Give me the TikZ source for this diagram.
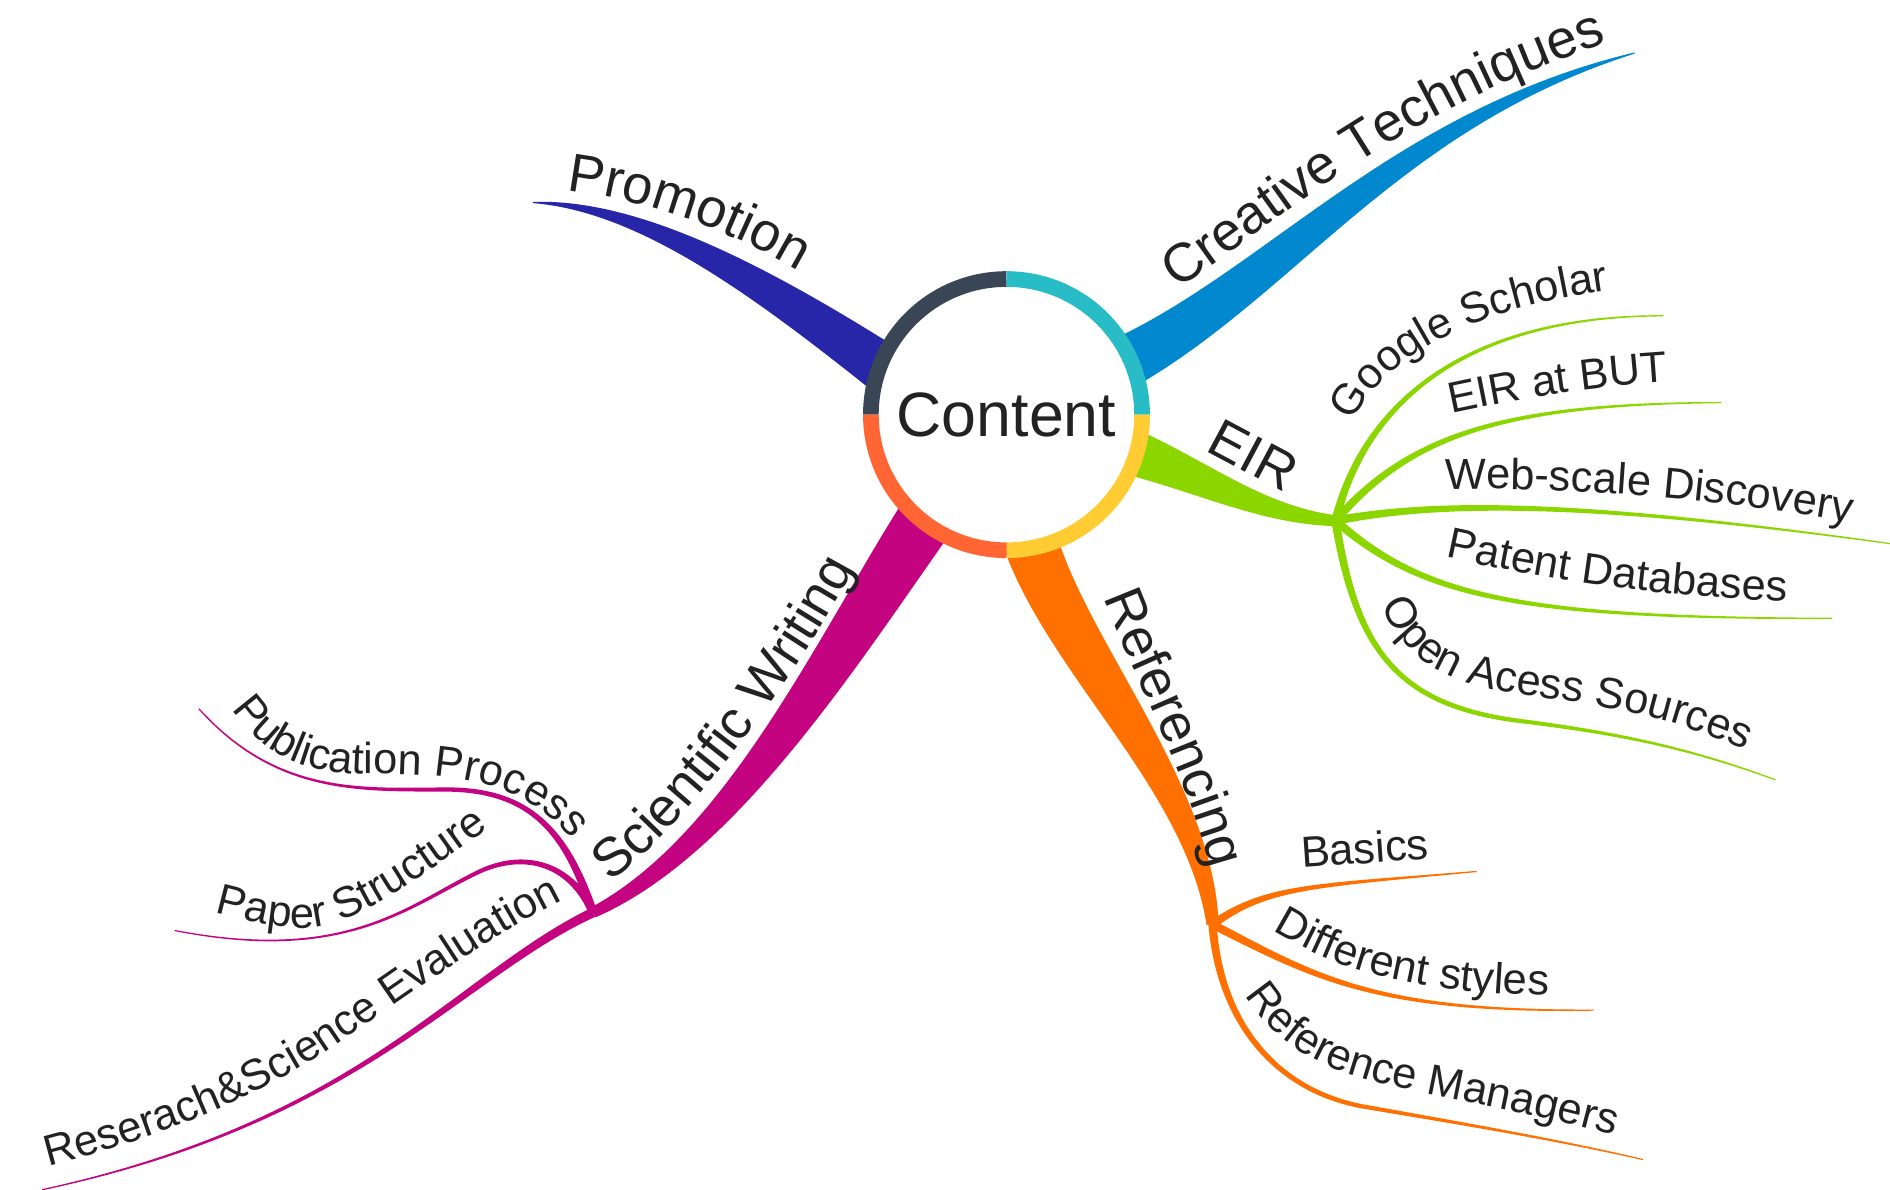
\documentclass[tikz,border=0pt]{standalone}
\usepackage{fontspec}
\setmainfont{Liberation Sans}
\usetikzlibrary{calc,decorations.text}
\definecolor{cPromo}{RGB}{40,38,168}
\definecolor{cCreat}{RGB}{2,136,206}
\definecolor{cEIR}{RGB}{140,214,0}
\definecolor{cRef}{RGB}{255,112,0}
\definecolor{cSci}{RGB}{196,3,128}
\definecolor{rDark}{RGB}{58,69,86}
\definecolor{rTeal}{RGB}{40,188,198}
\definecolor{rYel}{RGB}{255,204,51}
\definecolor{rOra}{RGB}{255,102,51}
\definecolor{txt}{RGB}{34,34,34}
% tapered branch: colour, P0, C1, C2, P3, widths at P0, C1, C2, P3
\newcommand\tbranch[9]{%
  \pgfmathsetlengthmacro\tbA{#6/2}%
  \pgfmathsetlengthmacro\tbB{#7/2}%
  \pgfmathsetlengthmacro\tbC{#8/2}%
  \pgfmathsetlengthmacro\tbD{#9/2}%
  \fill[#1] ($#2!\tbA!90:#3$) .. controls ($#3!\tbB!90:#4$) and ($#4!\tbC!90:#5$) .. ($#5!\tbD!-90:#4$)
    -- ($#5!\tbD!90:#4$) .. controls ($#4!\tbC!-90:#5$) and ($#3!\tbB!-90:#4$) .. ($#2!\tbA!-90:#3$) -- cycle;}
% text along a path: size, text, path
\newcommand\ctext[3]{\path[decorate,decoration={text along path,text color=txt,
  text={|\fontsize{#1}{#1}\selectfont|#2}}] #3;}
\begin{document}
\begin{tikzpicture}[x=1pt,y=-1pt]
\fill[white] (0,0) rectangle (1568,987);
\useasboundingbox (0,0) rectangle (1568,987);

% named points
\coordinate (c) at (835,344);
\coordinate (J1) at (1108,432);
\coordinate (J2) at (1006,767);
\coordinate (J3) at (492,757);
\coordinate (tPromo) at (442,168);
\coordinate (tCreat) at (1356,44);
\coordinate (tGS) at (1380,262);
\coordinate (tEB) at (1428,334);
\coordinate (tWD) at (1568,451);
\coordinate (tPD) at (1520,513);
\coordinate (oaM) at (1260,598);
\coordinate (tOA) at (1473,647);
\coordinate (tBa) at (1225,723);
\coordinate (tDS) at (1322,838);
\coordinate (rmM) at (1131,918);
\coordinate (tRM) at (1363,962);
\coordinate (ppM) at (370,655);
\coordinate (tPP) at (165,588);
\coordinate (psM) at (400,722);
\coordinate (tPS) at (145,772);
\coordinate (tRS) at (35,987);

% EIR sub-branches
\tbranch{cEIR}{(J1)}{(1130,340)}{(1210,262)}{(tGS)}{7pt}{5pt}{3pt}{1pt}
\tbranch{cEIR}{(J1)}{(1170,360)}{(1250,335)}{(tEB)}{7pt}{5pt}{3pt}{1pt}
\tbranch{cEIR}{(J1)}{(1200,414)}{(1330,418)}{(tWD)}{7pt}{5pt}{3pt}{1pt}
\tbranch{cEIR}{(J1)}{(1180,495)}{(1260,513)}{(tPD)}{7pt}{5pt}{3pt}{1pt}
\tbranch{cEIR}{(J1)}{(1125,540)}{(1160,585)}{(oaM)}{7pt}{5.5pt}{4.5pt}{3.5pt}
\tbranch{cEIR}{(oaM)}{(1340,608)}{(1400,620)}{(tOA)}{3.5pt}{2.6pt}{1.8pt}{1pt}
% Referencing sub-branches
\tbranch{cRef}{(J2)}{(1050,735)}{(1090,735)}{(tBa)}{7pt}{5pt}{3pt}{1pt}
\tbranch{cRef}{(J2)}{(1090,810)}{(1140,840)}{(tDS)}{7pt}{5pt}{3pt}{1pt}
\tbranch{cRef}{(J2)}{(1012,850)}{(1060,905)}{(rmM)}{7pt}{6pt}{4.5pt}{3.5pt}
\tbranch{cRef}{(rmM)}{(1200,930)}{(1290,945)}{(tRM)}{3.5pt}{2.6pt}{1.8pt}{1pt}
% Scientific Writing sub-branches
\tbranch{cSci}{(J3)}{(470,690)}{(440,655)}{(ppM)}{7pt}{6pt}{4.5pt}{3.5pt}
\tbranch{cSci}{(ppM)}{(300,655)}{(230,660)}{(tPP)}{3.5pt}{2.6pt}{1.8pt}{1pt}
\tbranch{cSci}{(J3)}{(475,720)}{(440,705)}{(psM)}{7pt}{6pt}{4.5pt}{3.5pt}
\tbranch{cSci}{(psM)}{(340,750)}{(290,800)}{(tPS)}{3.5pt}{2.6pt}{1.8pt}{1pt}
\tbranch{cSci}{(J3)}{(380,810)}{(300,930)}{(tRS)}{8pt}{6pt}{3pt}{1pt}

% main ribbons
\tbranch{cPromo}{(742,312)}{(630,232)}{(530,170)}{(tPromo)}{42pt}{27pt}{11pt}{1pt}
\tbranch{cCreat}{(925,305)}{(1060,238)}{(1155,100)}{(tCreat)}{44pt}{34pt}{16pt}{1pt}
\tbranch{cEIR}{(930,372)}{(995,394)}{(1045,427)}{(J1)}{40pt}{28pt}{16pt}{9pt}
\tbranch{cRef}{(852,440)}{(880,540)}{(995,650)}{(J2)}{46pt}{44pt}{24pt}{10pt}
\tbranch{cSci}{(775,420)}{(700,530)}{(610,700)}{(J3)}{48pt}{42pt}{20pt}{9pt}

% central topic
\node[circle,fill=white,minimum size=224pt,inner sep=0pt,text=txt,
  font=\fontsize{52}{52}\selectfont] (content) at (c) {Content};
\begin{scope}[shift={(content.center)},x=1pt,y=1pt,line width=13pt]
  \draw[rDark] (90:112.5) arc[start angle=90,end angle=180,radius=112.5];
  \draw[rTeal] (0:112.5) arc[start angle=0,end angle=90,radius=112.5];
  \draw[rYel] (-90:112.5) arc[start angle=-90,end angle=0,radius=112.5];
  \draw[rOra] (180:112.5) arc[start angle=180,end angle=270,radius=112.5];
\end{scope}

% main labels
\ctext{45}{Promotion}{(470,158) .. controls (530,165) and (610,190) .. (680,236)}
\ctext{45}{Creative Techniques}{(977,240) .. controls (1065,182) and (1165,86) .. (1358,28)}
\node[rotate=-28,inner sep=0pt,text=txt,font=\fontsize{45}{45}\selectfont] (eir) at (1040,378) {EIR};
\ctext{45}{Referencing}{(916,496) .. controls (940,560) and (985,640) .. (1010,740)}
\ctext{45}{Scientific Writing}{(506,732) .. controls (563,692) and (663,562) .. (715,460)}

% sub labels
\ctext{36}{Google Scholar}{(1122,350) .. controls (1150,295) and (1220,255) .. (1350,239)}
\ctext{36}{EIR at BUT}{(1204,343) .. controls (1260,331) and (1320,320) .. (1400,316)}
\ctext{36}{Web-scale Discovery}{(1199,406) .. controls (1300,404) and (1420,412) .. (1548,436)}
\ctext{36}{Patent Databases}{(1199,462) .. controls (1280,480) and (1380,497) .. (1500,499)}
\ctext{36}{Open Acess Sources}{(1146,502) .. controls (1170,560) and (1220,572) .. (1290,580) .. controls (1360,590) and (1400,600) .. (1465,630)}
\node[rotate=4,anchor=base west,inner sep=0pt,text=txt,font=\fontsize{36}{36}\selectfont] (basics) at (1080,720) {Basics};
\ctext{36}{Different styles}{(1056,772) .. controls (1110,805) and (1170,825) .. (1300,826)}
\ctext{36}{Reference Managers}{(1033,826) .. controls (1055,860) and (1085,885) .. (1150,900) .. controls (1220,915) and (1280,925) .. (1345,944)}
\ctext{36}{Publication Process}{(192,588) .. controls (215,620) and (240,640) .. (300,642) .. controls (380,642) and (440,645) .. (485,710)}
\ctext{36}{Paper Structure}{(178,757) .. controls (220,768) and (250,775) .. (280,765) .. controls (320,750) and (360,720) .. (415,680)}
\ctext{36}{Reserach{\&}Science Evaluation}{(40,968) .. controls (110,950) and (190,922) .. (262,878) .. controls (332,832) and (400,778) .. (485,738)}
\end{tikzpicture}
\end{document}
